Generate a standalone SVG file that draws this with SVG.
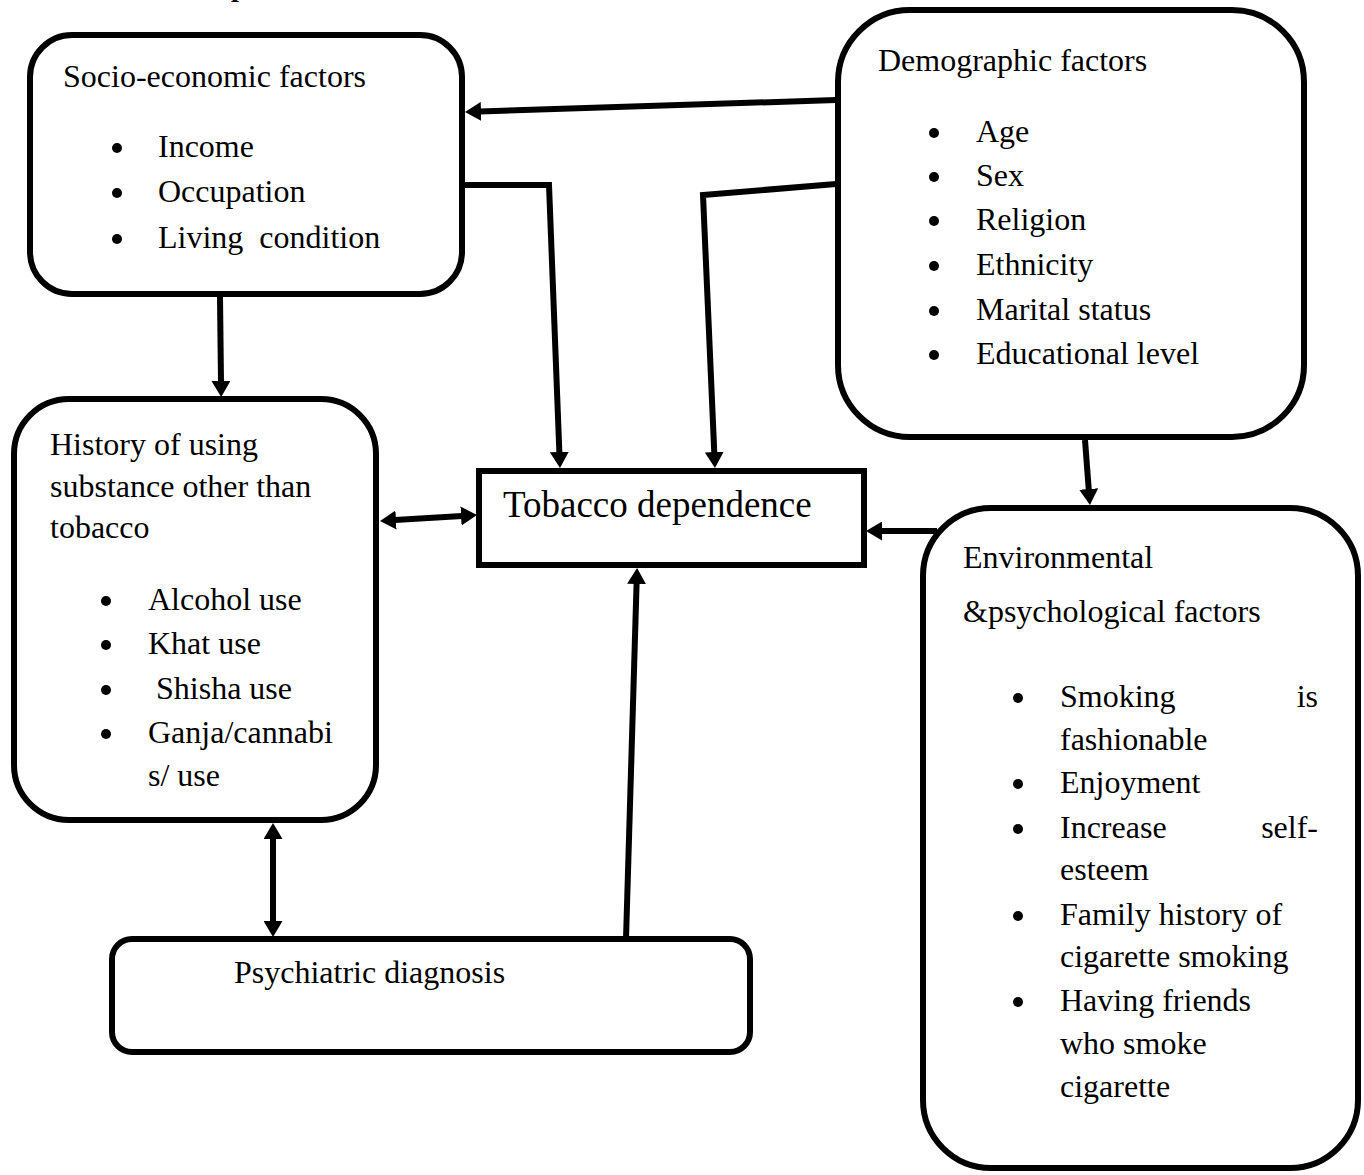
<svg xmlns="http://www.w3.org/2000/svg" width="1364" height="1175" viewBox="0 0 1364 1175">
<style>
.box{fill:#fff;stroke:#000;stroke-width:6}
.t{font-family:"Liberation Serif","Times New Roman",serif;font-size:32px;fill:#000}
.big{font-size:37px}
.c{fill:none;stroke:#000;stroke-width:6;stroke-linejoin:miter}
</style>
<defs>
<marker id="ah" markerUnits="userSpaceOnUse" markerWidth="16" markerHeight="19" refX="1" refY="9.5" orient="auto-start-reverse" viewBox="0 0 16 19">
<path d="M0,0 L16,9.5 L0,19 z" fill="#000"/>
</marker>
</defs>
<rect width="1364" height="1175" fill="#fff"/>
<text class="t" x="231" y="-4" style="font-weight:bold;font-size:28px">p</text>

<g id="socio-economic">
<rect class="box" x="30" y="35" width="432" height="259" rx="42"/>
<text class="t" x="63" y="87">Socio-economic factors</text>
<circle cx="117" cy="148" r="5"/><text class="t" x="158" y="157">Income</text>
<circle cx="117" cy="193" r="5"/><text class="t" x="158" y="202">Occupation</text>
<circle cx="117" cy="239" r="5"/><text class="t" x="158" y="248" xml:space="preserve">Living  condition</text>
</g>

<g id="demographic">
<rect class="box" x="838" y="10" width="466" height="427" rx="72"/>
<text class="t" x="878" y="71">Demographic factors</text>
<circle cx="934" cy="133" r="5"/><text class="t" x="976" y="142">Age</text>
<circle cx="934" cy="177" r="5"/><text class="t" x="976" y="186">Sex</text>
<circle cx="934" cy="221" r="5"/><text class="t" x="976" y="230">Religion</text>
<circle cx="934" cy="266" r="5"/><text class="t" x="976" y="275">Ethnicity</text>
<circle cx="934" cy="311" r="5"/><text class="t" x="976" y="320">Marital status</text>
<circle cx="934" cy="355" r="5"/><text class="t" x="976" y="364">Educational level</text>
</g>

<g id="history">
<rect class="box" x="14" y="399" width="362" height="421" rx="55"/>
<text class="t" x="50" y="455">History of using</text>
<text class="t" x="50" y="497">substance other than</text>
<text class="t" x="50" y="538">tobacco</text>
<circle cx="106" cy="601" r="5"/><text class="t" x="148" y="610">Alcohol use</text>
<circle cx="106" cy="645" r="5"/><text class="t" x="148" y="654">Khat use</text>
<circle cx="106" cy="690" r="5"/><text class="t" x="148" y="699" xml:space="preserve"> Shisha use</text>
<circle cx="106" cy="734" r="5"/><text class="t" x="148" y="743">Ganja/cannabi</text>
<text class="t" x="148" y="786">s/ use</text>
</g>

<g id="tobacco">
<rect class="box" x="479" y="471" width="385" height="94"/>
<text class="t big" x="503" y="517">Tobacco dependence</text>
</g>

<g id="environmental">
<rect class="box" x="923" y="508" width="435" height="660" rx="68"/>
<text class="t" x="963" y="568">Environmental</text>
<text class="t" x="963" y="622">&amp;psychological factors</text>
<circle cx="1018" cy="698" r="5"/><text class="t" x="1060" y="707">Smoking</text><text class="t" x="1318" y="707" text-anchor="end">is</text>
<text class="t" x="1060" y="750">fashionable</text>
<circle cx="1018" cy="784" r="5"/><text class="t" x="1060" y="793">Enjoyment</text>
<circle cx="1018" cy="829" r="5"/><text class="t" x="1060" y="838">Increase</text><text class="t" x="1318" y="838" text-anchor="end">self-</text>
<text class="t" x="1060" y="880">esteem</text>
<circle cx="1018" cy="916" r="5"/><text class="t" x="1060" y="925">Family history of</text>
<text class="t" x="1060" y="967">cigarette smoking</text>
<circle cx="1018" cy="1002" r="5"/><text class="t" x="1060" y="1011">Having friends</text>
<text class="t" x="1060" y="1054">who smoke</text>
<text class="t" x="1060" y="1097">cigarette</text>
</g>

<g id="psychiatric">
<rect class="box" x="112" y="939" width="638" height="113" rx="20"/>
<text class="t" x="234" y="983">Psychiatric diagnosis</text>
</g>

<g id="connectors">
<path class="c" d="M836,100 L480,111.5" marker-end="url(#ah)"/>
<path class="c" d="M836,184 L703,195 L714.3,453" marker-end="url(#ah)"/>
<path class="c" d="M462,185 L549,185 L559.4,453" marker-end="url(#ah)"/>
<path class="c" d="M220,297 L221,382" marker-end="url(#ah)"/>
<path class="c" d="M1085,440 L1088.8,490" marker-end="url(#ah)"/>
<path class="c" d="M937,531 L881,531" marker-end="url(#ah)"/>
<path class="c" d="M626,939 L636.6,583" marker-end="url(#ah)"/>
<path class="c" d="M395,520.1 L462,515.9" marker-start="url(#ah)" marker-end="url(#ah)"/>
<path class="c" d="M273,838 L273,922" marker-start="url(#ah)" marker-end="url(#ah)"/>
</g>
</svg>
